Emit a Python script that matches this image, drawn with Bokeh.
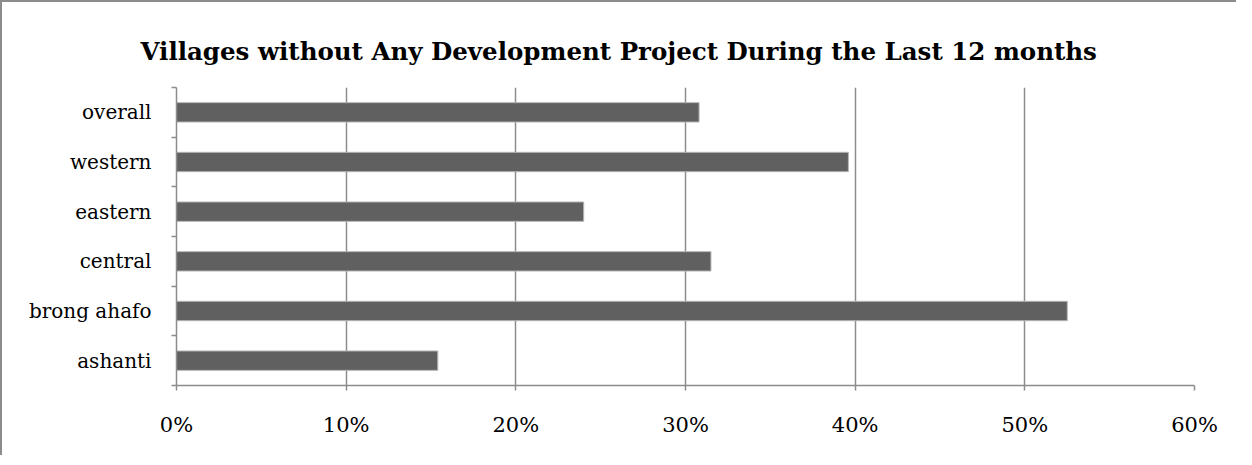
from bokeh.plotting import figure
from bokeh.models import FixedTicker, NumeralTickFormatter, Range1d
from bokeh.embed import file_html
from bokeh.resources import INLINE

categories = ["ashanti", "brong ahafo", "central", "eastern", "western", "overall"]
values = [0.154, 0.525, 0.315, 0.240, 0.396, 0.308]
x_ticks = [0.0, 0.1, 0.2, 0.3, 0.4, 0.5, 0.6]
title_text = "Villages without Any Development Project During the Last 12 months"

W, H = 1236, 455
p = figure(width=W, height=H, output_backend="svg", toolbar_location=None,
           x_range=Range1d(0, 0.6), y_range=Range1d(0, len(categories)),
           min_border_left=174, min_border_right=44, min_border_top=85,
           min_border_bottom=72)
p.styles = {"border-top": "2px solid #8c8c8c", "border-left": "2px solid #8c8c8c"}
p.outline_line_color = None
p.background_fill_color = "white"
p.border_fill_color = "white"

ys = [i + 0.5 for i in range(len(categories))]
p.hbar(y=ys, right=values, left=0, height=0.39, fill_color="#606060",
       line_color="#b5b5b5", line_width=1)

p.title.text = title_text
p.title.text_font = "DejaVu Serif"
p.title.text_font_style = "bold"
p.title.text_font_size = "24.5px"
p.title.text_color = "black"
p.title.align = "left"
p.title.offset = -36
p.title.vertical_align = "top"
p.title.standoff = 39

# x axis
xa = p.xaxis[0]
xa.ticker = FixedTicker(ticks=x_ticks)
xa.formatter = NumeralTickFormatter(format="0%")
xa.axis_line_color = "#8c8c8c"
xa.axis_line_width = 1.5
xa.major_tick_line_color = "#8c8c8c"
xa.major_tick_line_width = 1.5
xa.major_tick_in = 0
xa.major_tick_out = 5
xa.minor_tick_line_color = None
xa.major_label_text_font = "DejaVu Serif"
xa.major_label_text_font_size = "21px"
xa.major_label_text_color = "black"
xa.major_label_standoff = 22

# y axis
ya = p.yaxis[0]
ya.ticker = FixedTicker(ticks=ys, minor_ticks=list(range(len(categories) + 1)))
ya.major_label_overrides = {y: c for y, c in zip(ys, categories)}
ya.axis_line_color = "#8c8c8c"
ya.axis_line_width = 1.5
ya.major_tick_line_color = None
ya.minor_tick_line_color = "#8c8c8c"
ya.minor_tick_line_width = 1.5
ya.minor_tick_in = 0
ya.minor_tick_out = 5
ya.major_label_text_font = "DejaVu Serif"
ya.major_label_text_font_size = "20px"
ya.major_label_text_color = "black"
ya.major_label_standoff = 19

p.xgrid.grid_line_color = "#8c8c8c"
p.xgrid.grid_line_width = 1.5
p.ygrid.grid_line_color = None

open("out.html", "w").write(file_html(p, INLINE))
